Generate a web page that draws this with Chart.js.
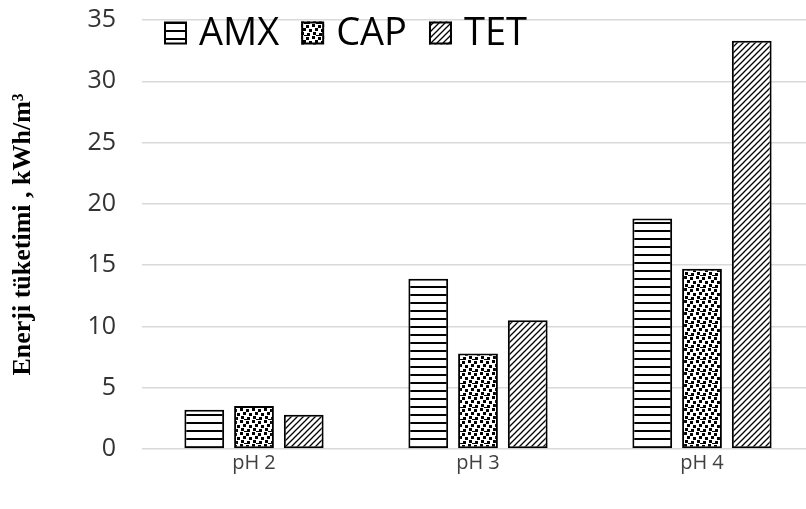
<!DOCTYPE html>
<html>
<head>
<meta charset="utf-8">
<script src="https://cdn.jsdelivr.net/npm/chart.js@4.4.1/dist/chart.umd.min.js"></script>
<style>
  html, body { margin: 0; padding: 0; background: #fff; overflow: hidden; }
  #wrap { width: 814px; height: 509px; position: relative; }
</style>
</head>
<body>
<div id="wrap"><canvas id="chart"></canvas></div>
<script>
const categories = ['pH 2', 'pH 3', 'pH 4'];
const seriesNames = ['AMX', 'CAP', 'TET'];
const amxValues = [3.2, 13.9, 18.8];
const capValues = [3.5, 7.8, 14.7];
const tetValues = [2.8, 10.5, 33.3];
const yTicks = [0, 5, 10, 15, 20, 25, 30, 35];
const yTitle = 'Enerji tüketimi , kWh/m³';

function makeTile(w, h, draw) {
    const c = document.createElement('canvas');
    c.width = w;
    c.height = h;
    const g = c.getContext('2d');
    g.fillStyle = '#fff';
    g.fillRect(0, 0, w, h);
    draw(g);
    return document.createElement('canvas').getContext('2d').createPattern(c, 'repeat');
}

// horizontal stripes
const stripePattern = makeTile(8, 8, g => {
    g.fillStyle = '#000';
    g.fillRect(0, 6, 8, 2);
});

// scattered dots
const dotPattern = makeTile(12, 12, g => {
    g.fillStyle = '#000';
    [[0, 0], [6, 1], [3, 4], [9, 5], [1, 8], [7, 9], [4, 11]].forEach(([x, y]) => g.fillRect(x, y, 3, 3));
});

// forward diagonal hatch
const hatchPattern = makeTile(6, 6, g => {
    g.strokeStyle = '#000';
    g.lineWidth = 1.3;
    g.beginPath();
    g.moveTo(-1, 7); g.lineTo(7, -1);
    g.moveTo(-4, 4); g.lineTo(4, -4);
    g.moveTo(2, 10); g.lineTo(10, 2);
    g.stroke();
});

const patterns = [stripePattern, dotPattern, hatchPattern];
const allValues = [amxValues, capValues, tetValues];

const topLegend = {
    id: 'topLegend',
    afterDraw(chart) {
        const ctx = chart.ctx;
        ctx.save();
        ctx.font = '38px "Open Sans", sans-serif';
        ctx.textBaseline = 'middle';
        let x = 164;
        const y = 33;
        const box = 23;
        chart.data.datasets.forEach(ds => {
            ctx.fillStyle = ds.backgroundColor;
            ctx.fillRect(x, y - box / 2, box, box);
            ctx.strokeStyle = '#000';
            ctx.lineWidth = 2;
            ctx.strokeRect(x + 1, y - box / 2 + 1, box - 2, box - 2);
            x += box + 12;
            ctx.fillStyle = '#000';
            ctx.fillText(ds.label, x, y + 1);
            x += ctx.measureText(ds.label).width + 22;
        });
        ctx.restore();
    }
};

new Chart(document.getElementById('chart'), {
    type: 'bar',
    data: {
        labels: categories,
        datasets: seriesNames.map((name, i) => ({
            label: name,
            data: allValues[i],
            backgroundColor: patterns[i],
            borderColor: '#000',
            borderWidth: 2,
            borderSkipped: false,
            categoryPercentage: 0.666,
            barPercentage: 0.8
        }))
    },
    options: {
        responsive: true,
        maintainAspectRatio: false,
        animation: false,
        layout: { padding: { top: 20, right: 0, bottom: 32, left: 0 } },
        plugins: {
            legend: { display: false },
            tooltip: { enabled: false }
        },
        scales: {
            x: {
                grid: { display: false, drawTicks: false },
                border: { display: false },
                ticks: { color: '#404040', font: { family: '"Open Sans", sans-serif', size: 20 }, padding: 2 }
            },
            y: {
                min: 0,
                max: 35,
                afterBuildTicks: s => { s.ticks = yTicks.map(v => ({ value: v })); },
                afterFit: s => {
                    s.width = 142;
                    s.paddingTop = 0;
                    s.paddingBottom = 0;
                },
                grid: { color: '#d9d9d9', lineWidth: 1.5, drawTicks: false },
                border: { display: false },
                ticks: { color: '#333', font: { family: '"Open Sans", sans-serif', size: 25 }, padding: 26 },
                title: {
                    display: true,
                    text: yTitle,
                    color: '#000',
                    font: { family: '"Liberation Serif", serif', size: 26, weight: 'bold' },
                    padding: { top: 8, bottom: 0 }
                }
            }
        }
    },
    plugins: [topLegend]
});
</script>
</body>
</html>
